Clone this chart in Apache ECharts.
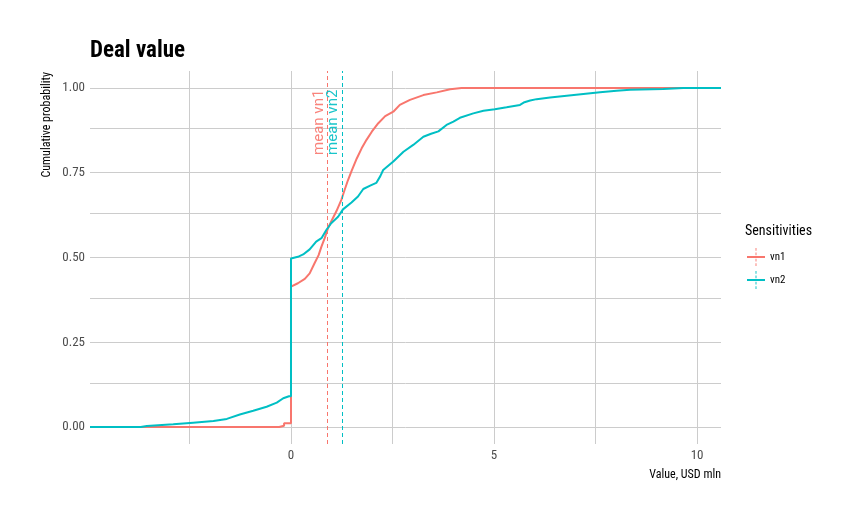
<!DOCTYPE html>
<html>
<head>
<meta charset="utf-8">
<script src="https://cdn.jsdelivr.net/npm/echarts@6/dist/echarts.min.js"></script>
<style>
  html, body { margin: 0; padding: 0; background: #fff; }
  #main { width: 862px; height: 521px; }
</style>
</head>
<body>
<div id="main"></div>
<script>
// values
var vn1X = [-4.95, -0.29, -0.29, -0.17, -0.17, 0, 0, 0.17, 0.34, 0.46, 0.58, 0.68, 0.75, 0.83, 0.91, 0.99, 1.12, 1.24, 1.32, 1.40, 1.49, 1.62, 1.74, 1.86, 1.99, 2.15, 2.32, 2.52, 2.68, 2.93, 3.26, 3.59, 3.92, 4.2, 10.59];
var vn1Y = [0, 0, 0.004, 0.004, 0.011, 0.011, 0.414, 0.424, 0.437, 0.453, 0.483, 0.507, 0.532, 0.557, 0.586, 0.606, 0.637, 0.670, 0.699, 0.727, 0.755, 0.792, 0.822, 0.847, 0.871, 0.896, 0.917, 0.930, 0.950, 0.965, 0.979, 0.987, 0.996, 1.0, 1.0];

var vn2X = [-4.95, -3.7, -3.55, -2.9, -2.41, -1.91, -1.58, -1.26, -0.93, -0.6, -0.35, -0.19, -0.05, 0, 0, 0.17, 0.30, 0.46, 0.62, 0.75, 0.87, 0.99, 1.16, 1.28, 1.49, 1.65, 1.78, 1.95, 2.1, 2.2, 2.27, 2.52, 2.77, 3.01, 3.26, 3.45, 3.63, 3.83, 4.0, 4.16, 4.49, 4.74, 5.02, 5.31, 5.64, 5.75, 5.89, 6.05, 6.38, 6.79, 7.2, 7.61, 8.02, 8.35, 9.17, 9.66, 10.59];
var vn2Y = [0, 0, 0.003, 0.008, 0.013, 0.018, 0.024, 0.037, 0.048, 0.06, 0.072, 0.085, 0.091, 0.091, 0.497, 0.502, 0.509, 0.524, 0.547, 0.557, 0.581, 0.601, 0.620, 0.642, 0.662, 0.680, 0.702, 0.712, 0.720, 0.740, 0.758, 0.783, 0.812, 0.832, 0.856, 0.865, 0.872, 0.891, 0.901, 0.912, 0.925, 0.933, 0.937, 0.943, 0.950, 0.958, 0.963, 0.967, 0.972, 0.977, 0.982, 0.987, 0.992, 0.995, 0.997, 1.0, 1.0];

var seriesNames = ['vn1', 'vn2'];
var meanValues = [0.90, 1.26];

var xTicks = [0, 5, 10];
var xGrid = [-2.5, 0, 2.5, 5, 7.5, 10];
var yTicks = [0, 0.25, 0.5, 0.75, 1];
var yGrid = [0, 0.125, 0.25, 0.375, 0.5, 0.625, 0.75, 0.875, 1];

var colors = ['#F8766D', '#00BFC4'];
var font = '"Roboto Condensed", "Liberation Sans Narrow", "Arial Narrow", Roboto, sans-serif';

function pairs(xs, ys) {
  var out = [];
  for (var i = 0; i < xs.length; i++) out.push([xs[i], ys[i]]);
  return out;
}

// line key with a dashed vertical stroke, like the ggplot legend
var keyIcon = 'path://M0,8.8L20,8.8L20,11.2L0,11.2Z M9.5,0L10.5,0L10.5,3L9.5,3Z M9.5,5L10.5,5L10.5,8L9.5,8Z M9.5,12L10.5,12L10.5,15L9.5,15Z M9.5,17L10.5,17L10.5,20L9.5,20Z';

var gridLines = [];
xGrid.forEach(function(v) { gridLines.push({ xAxis: v }); });
yGrid.forEach(function(v) { gridLines.push({ yAxis: v }); });

var chart = echarts.init(document.getElementById('main'));
var option = {
  animation: false,
  backgroundColor: '#fff',
  textStyle: { fontFamily: font },
  title: [{
    text: 'Deal value',
    left: 90, top: 40, padding: 0,
    textStyle: { fontSize: 23, fontWeight: 'bold', color: '#000', fontFamily: font }
  }, {
    text: 'Sensitivities',
    left: 745, top: 224, padding: 0,
    textStyle: { fontSize: 14, fontWeight: 'normal', color: '#000', fontFamily: font }
  }, {
    text: 'Value, USD mln',
    right: 141, top: 469, padding: 0,
    textStyle: { fontSize: 12, fontWeight: 'normal', color: '#000', fontFamily: font }
  }],
  legend: {
    data: seriesNames,
    orient: 'vertical',
    left: 747, top: 248, padding: 0,
    itemWidth: 18, itemHeight: 18, itemGap: 5,
    icon: keyIcon,
    textStyle: { fontSize: 11, color: '#000', fontFamily: font }
  },
  grid: { left: 90, right: 141, top: 71, bottom: 77 },
  xAxis: {
    type: 'value', min: -4.95, max: 10.59,
    axisLine: { show: false }, axisTick: { show: false },
    splitLine: { show: false },
    axisLabel: { customValues: xTicks, margin: 5, fontSize: 13, color: '#4d4d4d' }
  },
  yAxis: {
    type: 'value', min: -0.05, max: 1.05,
    axisLine: { show: false }, axisTick: { show: false },
    splitLine: { show: false },
    axisLabel: {
      customValues: yTicks, margin: 5, fontSize: 13, color: '#4d4d4d',
      formatter: function(v) { return v.toFixed(2); }
    }
  },
  series: [{
    type: 'line', data: [], silent: true, z: 0,
    markLine: {
      silent: true, symbol: 'none', animation: false, z: 1,
      label: { show: false },
      lineStyle: { color: '#cccccc', width: 1, type: 'solid' },
      data: gridLines
    }
  }, {
    name: seriesNames[0], type: 'line', data: pairs(vn1X, vn1Y),
    showSymbol: false, color: colors[0], lineStyle: { width: 2 }, z: 2,
    markLine: {
      silent: true, symbol: 'none', label: { show: false }, z: 5,
      lineStyle: { color: colors[0], width: 1, type: [4, 3] },
      data: [{ xAxis: meanValues[0] }]
    }
  }, {
    name: seriesNames[1], type: 'line', data: pairs(vn2X, vn2Y),
    showSymbol: false, color: colors[1], lineStyle: { width: 2 }, z: 3,
    markLine: {
      silent: true, symbol: 'none', label: { show: false }, z: 5,
      lineStyle: { color: colors[1], width: 1, type: [4, 3] },
      data: [{ xAxis: meanValues[1] }]
    }
  }]
};
chart.setOption(option);

// rotated axis title at the top of the panel and "mean" labels next to the dashed lines
var panelTop = chart.convertToPixel({ gridIndex: 0 }, [-4.95, 1.05]);
var graphics = [{
  type: 'text', x: 47, y: panelTop[1] + 1, rotation: Math.PI / 2, z: 10,
  style: { text: 'Cumulative probability', fill: '#000', font: '12px ' + font, align: 'right', verticalAlign: 'middle' }
}];
seriesNames.forEach(function(name, i) {
  var p = chart.convertToPixel({ gridIndex: 0 }, [meanValues[i], 0.995]);
  graphics.push({
    type: 'text', x: p[0] - 1, y: p[1], rotation: Math.PI / 2, z: 10,
    style: {
      text: 'mean ' + name, fill: colors[i], opacity: 0.9,
      font: '15px Roboto, sans-serif', align: 'right', verticalAlign: 'bottom'
    }
  });
});
chart.setOption({ graphic: graphics });
</script>
</body>
</html>
